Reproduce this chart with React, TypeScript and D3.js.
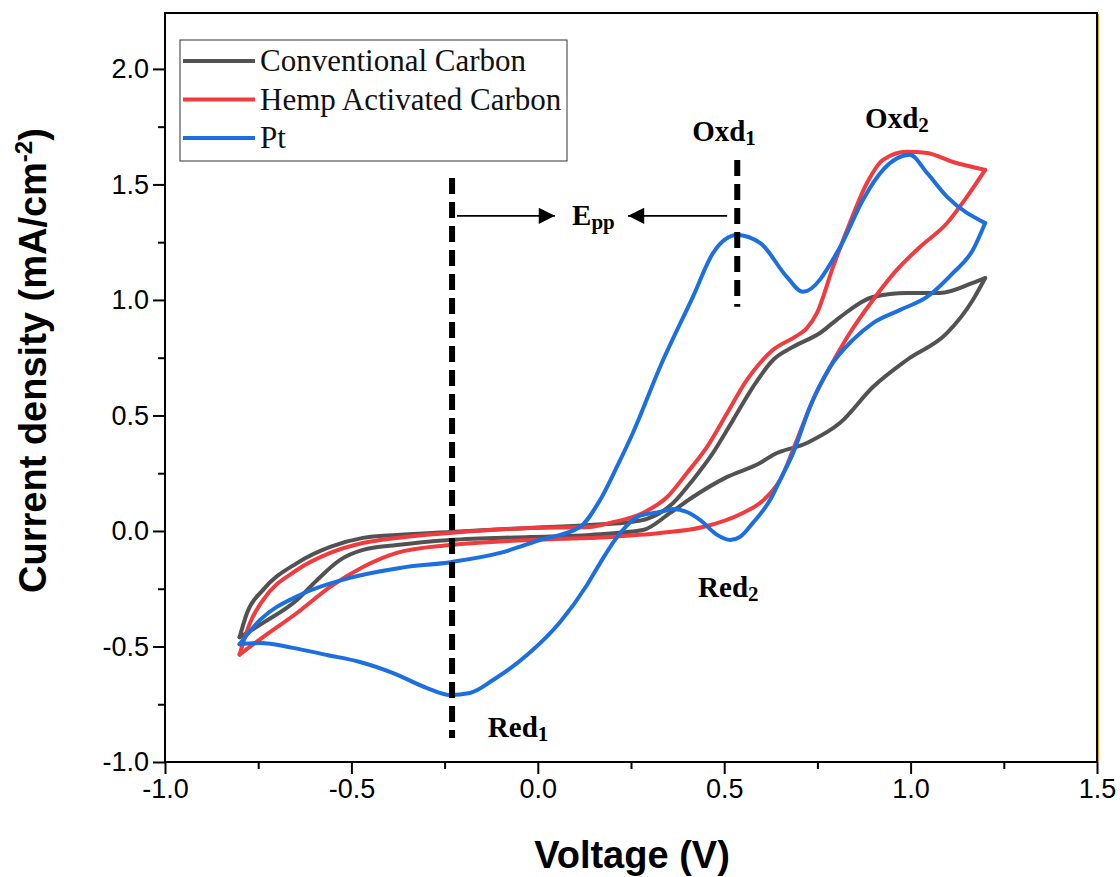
import { useEffect, useRef } from "react";
import * as d3 from "d3";

type Pt = [number, number];

// anodic (forward) and cathodic (reverse) branches, [voltage V, current mA/cm2]
const conventionalFwd: Pt[] = [
  [-0.8, -0.46], [-0.78, -0.355], [-0.737, -0.255], [-0.646, -0.139], [-0.557, -0.069],
  [-0.469, -0.03], [-0.378, -0.017], [-0.236, -0.004], [-0.021, 0.013], [0.14, 0.026],
  [0.255, 0.04], [0.293, 0.052], [0.363, 0.121], [0.416, 0.221], [0.47, 0.338],
  [0.524, 0.481], [0.577, 0.623], [0.631, 0.74], [0.685, 0.797], [0.757, 0.857],
  [0.811, 0.926], [0.899, 1.013], [0.99, 1.03], [1.079, 1.03], [1.167, 1.074], [1.2, 1.095],
];
const conventionalRev: Pt[] = [
  [1.2, 1.095], [1.167, 1.0], [1.098, 0.857], [0.99, 0.74], [0.899, 0.623], [0.811, 0.468],
  [0.722, 0.381], [0.631, 0.329], [0.596, 0.294], [0.508, 0.234], [0.416, 0.147],
  [0.355, 0.078], [0.282, 0.004], [0.14, -0.017], [-0.021, -0.026], [-0.236, -0.039],
  [-0.378, -0.061], [-0.469, -0.082], [-0.531, -0.126], [-0.592, -0.212], [-0.646, -0.299],
  [-0.737, -0.398], [-0.8, -0.46],
];

const hempFwd: Pt[] = [
  [-0.8, -0.535], [-0.772, -0.398], [-0.737, -0.299], [-0.646, -0.169], [-0.557, -0.095],
  [-0.469, -0.052], [-0.378, -0.03], [-0.236, -0.009], [-0.021, 0.013], [0.14, 0.017],
  [0.194, 0.035], [0.282, 0.078], [0.347, 0.147], [0.4, 0.251], [0.454, 0.364],
  [0.508, 0.511], [0.561, 0.654], [0.596, 0.727], [0.631, 0.784], [0.69, 0.84],
  [0.72, 0.875], [0.749, 0.944], [0.792, 1.143], [0.837, 1.333], [0.883, 1.506],
  [0.926, 1.606], [0.99, 1.641], [1.044, 1.636], [1.114, 1.597], [1.2, 1.563],
];
const hempRev: Pt[] = [
  [1.2, 1.563], [1.151, 1.446], [1.098, 1.333], [1.025, 1.229], [0.963, 1.13], [0.899, 1.0],
  [0.837, 0.857], [0.784, 0.71], [0.738, 0.567], [0.695, 0.394], [0.65, 0.221],
  [0.631, 0.177], [0.596, 0.121], [0.55, 0.078], [0.443, 0.017], [0.328, -0.009],
  [0.194, -0.026], [-0.021, -0.039], [-0.236, -0.061], [-0.378, -0.095], [-0.469, -0.156],
  [-0.557, -0.242], [-0.646, -0.355], [-0.737, -0.459], [-0.8, -0.535],
];

const ptFwd: Pt[] = [
  [-0.8, -0.49], [-0.745, -0.385], [-0.638, -0.277], [-0.504, -0.203], [-0.37, -0.16],
  [-0.23, -0.134], [-0.101, -0.095], [0.006, -0.039], [0.113, 0.017], [0.167, 0.134],
  [0.212, 0.277], [0.255, 0.424], [0.328, 0.71], [0.416, 1.013], [0.47, 1.203],
  [0.534, 1.281], [0.596, 1.247], [0.668, 1.1], [0.711, 1.035], [0.811, 1.229],
  [0.872, 1.433], [0.926, 1.563], [0.998, 1.628], [1.044, 1.55], [1.098, 1.446], [1.2, 1.333],
];
const ptRev: Pt[] = [
  [1.2, 1.333], [1.167, 1.216], [1.114, 1.117], [1.044, 1.013], [0.972, 0.957], [0.899, 0.9],
  [0.845, 0.827], [0.784, 0.71], [0.73, 0.537], [0.685, 0.338], [0.65, 0.221],
  [0.623, 0.134], [0.577, 0.035], [0.542, -0.026], [0.516, -0.039], [0.481, -0.017],
  [0.435, 0.048], [0.4, 0.082], [0.363, 0.095], [0.328, 0.082], [0.274, 0.066],
  [0.221, -0.009], [0.167, -0.139], [0.132, -0.234], [0.06, -0.394], [-0.029, -0.537],
  [-0.12, -0.645], [-0.182, -0.701], [-0.236, -0.71], [-0.297, -0.68], [-0.388, -0.615],
  [-0.477, -0.567], [-0.565, -0.537], [-0.657, -0.506], [-0.745, -0.485], [-0.8, -0.49],
];

const seriesNames = ["Conventional Carbon", "Hemp Activated Carbon", "Pt"];
const seriesColors = ["#525252", "#f03b3f", "#1c6fdf"];
const seriesData = [
  [conventionalFwd, conventionalRev],
  [hempFwd, hempRev],
  [ptFwd, ptRev],
];

const xTicks = [-1.0, -0.5, 0.0, 0.5, 1.0, 1.5];
const xMinor = [-0.75, -0.25, 0.25, 0.75, 1.25];
const yTicks = [-1.0, -0.5, 0.0, 0.5, 1.0, 1.5, 2.0];
const yMinor = [-0.75, -0.25, 0.25, 0.75, 1.25, 1.75];

// annotations in data units
const dashLines = [
  { x: -0.23, y1: -0.896, y2: 1.528 },
  { x: 0.535, y1: 0.97, y2: 1.606 },
];
const arrows = [
  { x1: -0.217, x2: 0.046, y: 1.364 },
  { x1: 0.508, x2: 0.242, y: 1.364 },
];
const peakLabels = [
  { main: "Oxd", sub: "1", x: 0.414, y: 1.688 },
  { main: "Oxd", sub: "2", x: 0.878, y: 1.745 },
  { main: "Red", sub: "2", x: 0.43, y: -0.286 },
  { main: "Red", sub: "1", x: -0.134, y: -0.892 },
  { main: "E", sub: "pp", x: 0.092, y: 1.325 },
];

const App = () => {
  const svgRef = useRef<SVGSVGElement>(null);

  useEffect(() => {
    const svg = d3.select(svgRef.current);
    svg.selectAll("*").remove();

    const width = 1120;
    const height = 877;
    const left = 165;
    const right = 1097;
    const top = 13;
    const bottom = 762;

    svg.attr("width", width).attr("height", height);

    const x = d3.scaleLinear().domain([-1, 1.5]).range([left, right]);
    const y = d3.scaleLinear().domain([-1, 2.242]).range([bottom, top]);

    svg.append("rect").attr("width", width).attr("height", height).attr("fill", "#fff");

    // arrow marker
    svg
      .append("defs")
      .append("marker")
      .attr("id", "arrowhead")
      .attr("viewBox", "0 0 10 10")
      .attr("refX", 10)
      .attr("refY", 5)
      .attr("markerWidth", 10)
      .attr("markerHeight", 9)
      .attr("markerUnits", "strokeWidth")
      .attr("orient", "auto")
      .append("path")
      .attr("d", "M0,0 L10,5 L0,10 Z")
      .attr("fill", "#000");

    // curves
    const line = d3
      .line<Pt>()
      .x((d) => x(d[0]))
      .y((d) => y(d[1]))
      .curve(d3.curveMonotoneX);

    seriesData.forEach((branches, i) => {
      branches.forEach((b) => {
        const sorted = [...b].sort((p, q) => p[0] - q[0]);
        svg
          .append("path")
          .datum(sorted)
          .attr("fill", "none")
          .attr("stroke", seriesColors[i])
          .attr("stroke-width", 4)
          .attr("stroke-linecap", "round")
          .attr("stroke-linejoin", "round")
          .attr("d", line);
      });
    });

    // dashed markers
    dashLines.forEach((d) => {
      svg
        .append("line")
        .attr("x1", x(d.x))
        .attr("x2", x(d.x))
        .attr("y1", y(d.y2))
        .attr("y2", y(d.y1))
        .attr("stroke", "#000")
        .attr("stroke-width", 6)
        .attr("stroke-dasharray", "16 8");
    });

    arrows.forEach((a) => {
      svg
        .append("line")
        .attr("x1", x(a.x1))
        .attr("x2", x(a.x2))
        .attr("y1", y(a.y))
        .attr("y2", y(a.y))
        .attr("stroke", "#000")
        .attr("stroke-width", 1.8)
        .attr("marker-end", "url(#arrowhead)");
    });

    peakLabels.forEach((l) => {
      const t = svg
        .append("text")
        .attr("x", x(l.x))
        .attr("y", y(l.y))
        .attr("font-family", "Liberation Serif, serif")
        .attr("font-weight", "bold")
        .attr("font-size", 29)
        .text(l.main);
      t.append("tspan").attr("font-size", 21).attr("dy", 4).text(l.sub);
    });

    // frame
    svg
      .append("rect")
      .attr("x", left)
      .attr("y", top)
      .attr("width", right - left)
      .attr("height", bottom - top)
      .attr("fill", "none")
      .attr("stroke", "#000")
      .attr("stroke-width", 2);
    svg
      .append("line")
      .attr("x1", right + 1.5)
      .attr("x2", right + 1.5)
      .attr("y1", top + 1)
      .attr("y2", bottom)
      .attr("stroke", "#e89a2c")
      .attr("stroke-width", 1);

    // axes
    const styleAxis = (g: d3.Selection<SVGGElement, unknown, null, undefined>) => {
      g.select(".domain").remove();
      g.selectAll(".tick line").attr("stroke", "#000").attr("stroke-width", 2);
      g.selectAll(".tick text")
        .attr("fill", "#000")
        .attr("font-family", "Liberation Sans, Arial, sans-serif")
        .attr("font-size", 27);
    };

    svg
      .append("g")
      .attr("transform", `translate(0,${bottom})`)
      .call(
        d3.axisBottom(x).tickValues(xTicks).tickSize(12).tickPadding(5)
          .tickFormat((d) => (d as number).toFixed(1))
      )
      .call(styleAxis);
    svg
      .append("g")
      .attr("transform", `translate(0,${bottom})`)
      .call(d3.axisBottom(x).tickValues(xMinor).tickSize(7).tickFormat(() => ""))
      .call(styleAxis);

    svg
      .append("g")
      .attr("transform", `translate(${left},0)`)
      .call(
        d3.axisLeft(y).tickValues(yTicks).tickSize(12).tickPadding(4)
          .tickFormat((d) => (d as number).toFixed(1))
      )
      .call(styleAxis);
    svg
      .append("g")
      .attr("transform", `translate(${left},0)`)
      .call(d3.axisLeft(y).tickValues(yMinor).tickSize(7).tickFormat(() => ""))
      .call(styleAxis);

    // axis titles
    svg
      .append("text")
      .attr("x", (left + right) / 2 + 1)
      .attr("y", 868)
      .attr("text-anchor", "middle")
      .attr("font-family", "Liberation Sans, Arial, sans-serif")
      .attr("font-weight", "bold")
      .attr("font-size", 38)
      .text("Voltage (V)");

    const yTitle = svg
      .append("text")
      .attr("transform", `translate(46,${(top + bottom) / 2 - 27}) rotate(-90)`)
      .attr("text-anchor", "middle")
      .attr("font-family", "Liberation Sans, Arial, sans-serif")
      .attr("font-weight", "bold")
      .attr("font-size", 38);
    yTitle.append("tspan").text("Current density (mA/cm");
    yTitle.append("tspan").attr("font-size", 24).attr("dy", -14).text("-2");
    yTitle.append("tspan").attr("dy", 14).text(")");

    // legend
    const legend = svg.append("g").attr("transform", "translate(180,40)");
    legend
      .append("rect")
      .attr("width", 387)
      .attr("height", 121)
      .attr("fill", "#fff")
      .attr("stroke", "#333")
      .attr("stroke-width", 1);
    seriesNames.forEach((name, i) => {
      const ly = 21 + i * 38.5;
      legend
        .append("line")
        .attr("x1", 3)
        .attr("x2", 75)
        .attr("y1", ly)
        .attr("y2", ly)
        .attr("stroke", seriesColors[i])
        .attr("stroke-width", 4);
      legend
        .append("text")
        .attr("x", 80)
        .attr("y", ly)
        .attr("dy", "0.33em")
        .attr("font-family", "Liberation Serif, Times New Roman, serif")
        .attr("font-size", 31)
        .attr("fill", "#111")
        .text(name);
    });
  }, []);

  return <svg ref={svgRef} style={{ position: "absolute", left: 0, top: 0 }}></svg>;
};

export default App;
